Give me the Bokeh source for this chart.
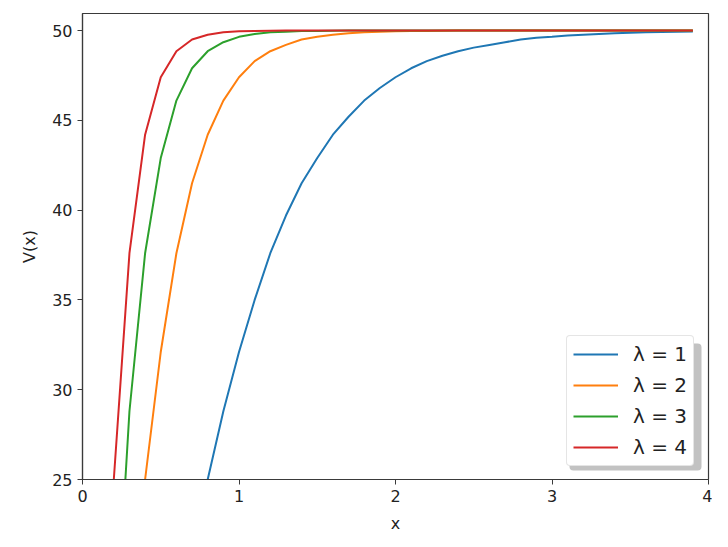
from bokeh.plotting import figure
from bokeh.models import Range1d, Legend, LegendItem, BoxAnnotation, FixedTicker
from bokeh.embed import file_html
from bokeh.resources import INLINE

# sampling grid
X = [0.0, 0.1, 0.2, 0.3, 0.4, 0.5, 0.6, 0.7, 0.8, 0.9,
     1.0, 1.1, 1.2, 1.3, 1.4, 1.5, 1.6, 1.7, 1.8, 1.9,
     2.0, 2.1, 2.2, 2.3, 2.4, 2.5, 2.6, 2.7, 2.8, 2.9,
     3.0, 3.1, 3.2, 3.3, 3.4, 3.5, 3.6, 3.7, 3.8, 3.9]

LABELS = ["λ = 1", "λ = 2", "λ = 3", "λ = 4"]
COLORS = ["#1f77b4", "#ff7f0e", "#2ca02c", "#d62728"]

# lambda = 1, x from 0.8
V1 = [25.0, 28.8, 32.1, 35.0, 37.6, 39.7, 41.5, 42.9, 44.2, 45.2,
      46.1, 46.8, 47.4, 47.9, 48.3, 48.6, 48.85, 49.05, 49.2, 49.35,
      49.5, 49.6, 49.65, 49.72, 49.77, 49.81, 49.85, 49.88, 49.9, 49.92,
      49.94, 49.95]
# lambda = 2, x from 0.4
V2 = [25.0, 32.1, 37.6, 41.5, 44.2, 46.1, 47.4, 48.3, 48.85, 49.2,
      49.5, 49.65, 49.77, 49.85, 49.9, 49.94, 49.96, 49.97, 49.98, 49.99,
      50.0, 50.0, 50.0, 50.0, 50.0, 50.0, 50.0, 50.0, 50.0, 50.0,
      50.0, 50.0, 50.0, 50.0, 50.0, 50.0]
# lambda = 3, x from 0.2
V3 = [14.2, 28.8, 37.6, 42.9, 46.1, 47.9, 48.85, 49.35, 49.65, 49.81,
      49.9, 49.94, 49.97, 49.98, 49.99, 50.0, 50.0, 50.0, 50.0, 50.0,
      50.0, 50.0, 50.0, 50.0, 50.0, 50.0, 50.0, 50.0, 50.0, 50.0,
      50.0, 50.0, 50.0, 50.0, 50.0, 50.0, 50.0, 50.0]
# lambda = 4, x from 0.2
V4 = [25.0, 37.6, 44.2, 47.4, 48.85, 49.5, 49.77, 49.9, 49.96, 49.98,
      49.99, 50.0, 50.0, 50.0, 50.0, 50.0, 50.0, 50.0, 50.0, 50.0,
      50.0, 50.0, 50.0, 50.0, 50.0, 50.0, 50.0, 50.0, 50.0, 50.0,
      50.0, 50.0, 50.0, 50.0, 50.0, 50.0, 50.0, 50.0]

X1 = X[8:]
X2 = X[4:]
X3 = X[2:]
X4 = X[2:]

X_TICKS = [0, 1, 2, 3, 4]
Y_TICKS = [25, 30, 35, 40, 45, 50]

FONT = "DejaVu Sans"
AX = "#3a3a3a"

p = figure(width=712, height=540, output_backend="svg", toolbar_location=None,
           x_range=Range1d(0, 4), y_range=Range1d(25, 50.95),
           min_border_left=82, min_border_right=4, min_border_top=13,
           min_border_bottom=61)
p.background_fill_color = "white"
p.border_fill_color = "white"
p.xgrid.visible = False
p.ygrid.visible = False
p.outline_line_color = AX
p.outline_line_width = 1.2

for ax in (p.xaxis[0], p.yaxis[0]):
    ax.axis_line_color = AX
    ax.axis_line_width = 1.2
    ax.major_tick_line_color = AX
    ax.major_tick_in = 0
    ax.major_tick_out = 5
    ax.minor_tick_line_color = None
    ax.major_label_text_font = FONT
    ax.major_label_text_font_size = "16px"
    ax.major_label_text_color = "#222222"
    ax.axis_label_text_font = FONT
    ax.axis_label_text_font_size = "16px"
    ax.axis_label_text_font_style = "normal"
    ax.axis_label_text_color = "#222222"
    ax.major_label_standoff = 5

p.xaxis.ticker = FixedTicker(ticks=X_TICKS)
p.yaxis.ticker = FixedTicker(ticks=Y_TICKS)
p.xaxis.axis_label = "x"
p.yaxis.axis_label = "V(x)"
p.xaxis.axis_label_standoff = 9
p.yaxis.axis_label_standoff = 10

renderers = []
for xs, ys, c in zip((X1, X2, X3, X4), (V1, V2, V3, V4), COLORS):
    r = p.line(xs, ys, line_color=c, line_width=2)
    renderers.append(r)

# legend shadow
shadow = BoxAnnotation(left=569, right=701, top=343, bottom=470,
                       left_units="canvas", right_units="canvas",
                       top_units="canvas", bottom_units="canvas",
                       fill_color="#9a9a9a", fill_alpha=0.6, line_color=None,
                       border_radius=4)
p.add_layout(shadow)

legend = Legend(items=[LegendItem(label=l, renderers=[r]) for l, r in zip(LABELS, renderers)],
                location=(484, 13))
legend.label_text_font = FONT
legend.label_text_font_size = "20px"
legend.label_text_color = "#222222"
legend.glyph_width = 45
legend.glyph_height = 20
legend.label_height = 20
legend.label_standoff = 15
legend.spacing = 7
legend.padding = 6
legend.margin = 0
legend.border_line_color = "#cccccc"
legend.border_line_width = 1
legend.background_fill_color = "white"
legend.background_fill_alpha = 1.0
legend.border_radius = 4
p.add_layout(legend)

open("out.html", "w").write(file_html(p, INLINE))
